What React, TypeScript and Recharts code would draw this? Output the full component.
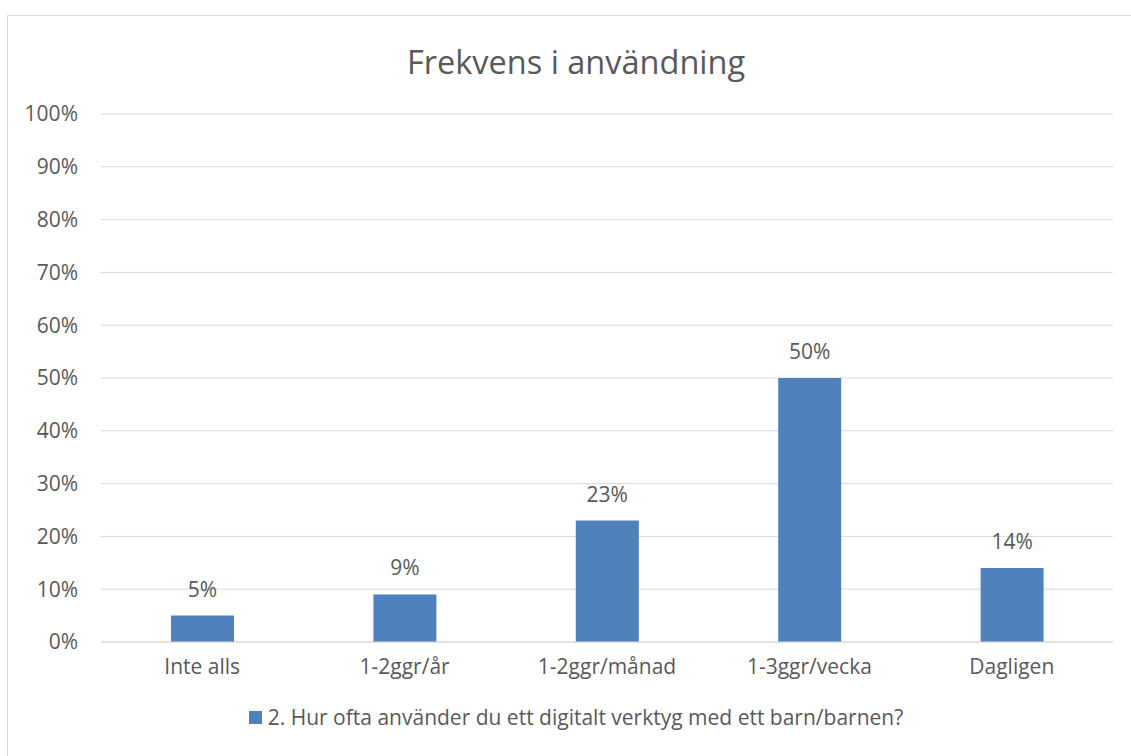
import { BarChart, Bar, XAxis, YAxis, CartesianGrid, LabelList, Legend } from 'recharts'

const categories = ['Inte alls', '1-2ggr/år', '1-2ggr/månad', '1-3ggr/vecka', 'Dagligen']
const shares = [5, 9, 23, 50, 14]
const yTicks = [0, 10, 20, 30, 40, 50, 60, 70, 80, 90, 100]
const seriesName = '2. Hur ofta använder du ett digitalt verktyg med ett barn/barnen?'
const title = 'Frekvens i användning'

const data = categories.map((name, i) => ({ name, value: shares[i] }))

const FONT = '"Open Sans", sans-serif'
const TEXT = '#595959'
const BLUE = '#4f81bd'
const GRID = '#d9d9d9'

const LegendContent = () => (
  <div style={{ display: 'flex', justifyContent: 'center', alignItems: 'center', fontFamily: FONT, fontSize: 21, color: TEXT }}>
    <span style={{ width: 13, height: 13, background: BLUE, display: 'inline-block', marginRight: 6 }} />
    <span>{seriesName}</span>
  </div>
)

export default function App() {
  return (
    <div style={{ position: 'absolute', left: 0, top: 0, width: 1131, height: 756, overflow: 'hidden', background: '#fff' }}>
      <div
        style={{
          position: 'absolute',
          left: 7,
          top: 15,
          width: 1140,
          height: 760,
          borderTop: `1px solid ${GRID}`,
          borderLeft: `1px solid ${GRID}`,
        }}
      />
      <div
        style={{
          position: 'absolute',
          left: 0,
          top: 40,
          width: 1152,
          textAlign: 'center',
          fontFamily: FONT,
          fontSize: 32.5,
          color: TEXT,
          lineHeight: '44px',
        }}
      >
        {title}
      </div>
      <div style={{ position: 'absolute', left: 0, top: 0 }}>
        <BarChart
          width={1131}
          height={756}
          data={data}
          margin={{ top: 114, right: 18, bottom: 0, left: 0 }}
          barCategoryGap={0}
        >
          <CartesianGrid vertical={false} stroke={GRID} strokeWidth={1} />
          <XAxis
            dataKey="name"
            height={114}
            axisLine={{ stroke: GRID }}
            tickLine={false}
            tickSize={0}
            tickMargin={17}
            tick={{ fill: TEXT, fontSize: 21, fontFamily: FONT }}
            interval={0}
          />
          <YAxis
            width={101}
            domain={[0, 100]}
            ticks={yTicks}
            axisLine={false}
            tickLine={false}
            tickSize={0}
            tickMargin={23}
            tickFormatter={(v) => `${v}%`}
            tick={{ fill: TEXT, fontSize: 21, fontFamily: FONT }}
          />
          <Legend
            layout="horizontal"
            verticalAlign="middle"
            align="center"
            wrapperStyle={{ top: 703, left: 0, width: 1152 }}
            content={<LegendContent />}
          />
          <Bar dataKey="value" name={seriesName} fill={BLUE} barSize={63} isAnimationActive={false}>
            <LabelList
              dataKey="value"
              position="top"
              offset={19}
              formatter={(v: number) => `${v}%`}
              style={{ fill: TEXT, fontSize: 21, fontFamily: FONT }}
            />
          </Bar>
        </BarChart>
      </div>
    </div>
  )
}
